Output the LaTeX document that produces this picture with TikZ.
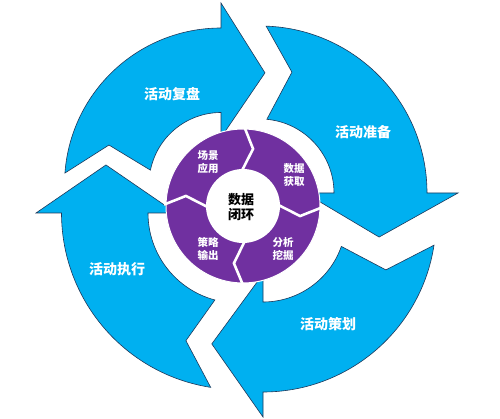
\documentclass[tikz,border=0pt]{standalone}
\usepackage{fontspec}
\newfontfamily\cjk{Noto Sans CJK SC}
\definecolor{cycblue}{RGB}{0,176,240}
\definecolor{cycedge}{RGB}{31,56,90}
\definecolor{loopviolet}{RGB}{112,48,160}
\tikzstyle{cyc}=[fill=cycblue, draw=cycedge, line width=0.6pt]
\tikzstyle{ring}=[fill=loopviolet, draw=white, line width=1pt]
\tikzstyle{gap}=[draw=white, line width=2.6pt]
\tikzstyle{stage}=[inner sep=0pt, text=white, font=\cjk\bfseries\fontsize{14}{16}\selectfont]
\tikzstyle{sub}=[inner sep=0pt, text=white, align=center, font=\cjk\bfseries\fontsize{10.5}{13.5}\selectfont]
\tikzstyle{hub}=[inner sep=0pt, text=black, align=center, font=\cjk\bfseries\fontsize{13}{15}\selectfont]
\begin{document}
\begin{tikzpicture}[x=1pt,y=1pt]
	\useasboundingbox[fill=white] (0,0) rectangle (500,418);
	
	%The outer cycle
	\begin{scope}[shift={(221,233.5)}]
		\draw[cyc] (175.8:156.5) arc[start angle=175.8, end angle=90, radius=156.5]
			-- (90:181.5) -- (68.5:120) -- (90:47) -- (90:72)
			arc[start angle=90, end angle=168.5, radius=72] -- (160.6:118.8) -- cycle;
	\end{scope}
	\begin{scope}[shift={(260,225)}]
		\draw[cyc] (87.9:167) arc[start angle=87.9, end angle=0, radius=167]
			-- (0:198) -- (-20.3:127) -- (0:45) -- (0:74)
			arc[start angle=0, end angle=84.7, radius=74] -- (75.2:125) -- cycle;
	\end{scope}
	\begin{scope}[shift={(263,199)}]
		\draw[cyc] (-8.7:173) arc[start angle=-8.7, end angle=-90, radius=173]
			-- (-90:198) -- (-112.3:135) -- (-90:55) -- (-90:83)
			arc[start angle=-90, end angle=-19.3, radius=83] -- (-22.5:133) -- cycle;
	\end{scope}
	\begin{scope}[shift={(238,205)}]
		\draw[cyc] (-98.9:176.5) arc[start angle=-98.9, end angle=-180, radius=176.5]
			-- (180:202) -- (160:140.5) -- (180:62) -- (180:90)
			arc[start angle=-180, end angle=-104.9, radius=90] -- (-112.2:137.9) -- cycle;
	\end{scope}
	
	%The inner ring
	\draw[ring] (243,212) circle[radius=77];
	\fill[white] (243,212) circle[radius=37];
	\begin{scope}[shift={(243,212)}]
		\draw[gap] (89:79) -- (80:58) -- (92:35);
		\draw[gap] (-1:79) -- (-10:58) -- (2:35);
		\draw[gap] (-90:79) -- (-99:58) -- (-87:35);
		\draw[gap] (179:79) -- (170:58) -- (182:35);
	\end{scope}
	
	%The labels
	\draw (172,324) node[stage] (review) {活动复盘};
	\draw (363,286) node[stage] (prepare) {活动准备};
	\draw (328,94) node[stage] (plan) {活动策划};
	\draw (117,149) node[stage] (execute) {活动执行};
	
	\draw (208,256) node[sub] (apply) {场景\\应用};
	\draw (294,243) node[sub] (fetch) {数据\\获取};
	\draw (283,169) node[sub] (mine) {分析\\挖掘};
	\draw (208,169) node[sub] (output) {策略\\输出};
	
	\draw (241,211) node[hub] (loop) {数据\\闭环};
\end{tikzpicture}
\end{document}
